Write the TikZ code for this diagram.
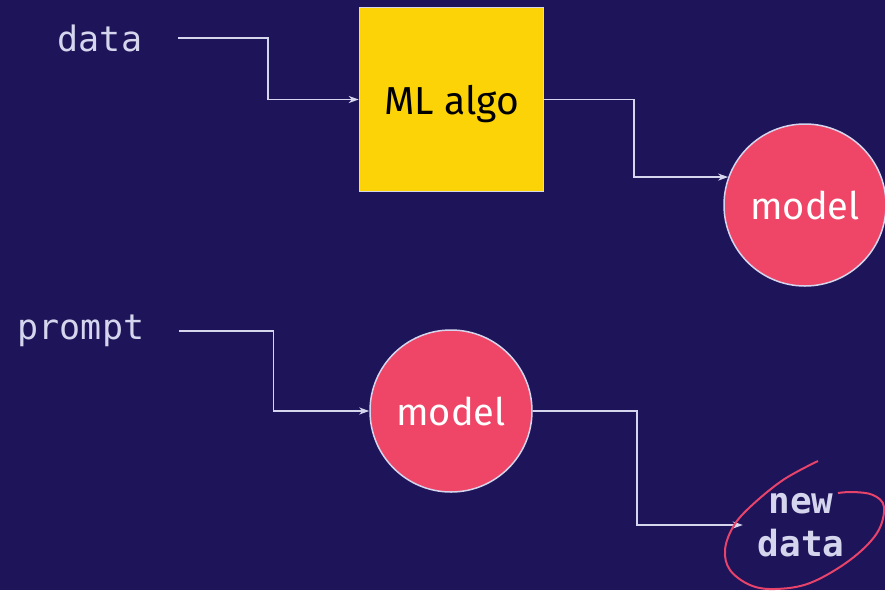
\documentclass[tikz,border=0pt]{standalone}
\usepackage{fontspec}
\setmainfont{Fira Sans}
\newfontfamily\codefont{DejaVu Sans Mono}
\usetikzlibrary{arrows.meta}

\definecolor{night}{HTML}{1D1459}
\definecolor{lilac}{HTML}{D5D5EE}
\definecolor{gold}{HTML}{FCD307}
\definecolor{rose}{HTML}{EF4566}
\definecolor{scribble}{HTML}{E8436A}

\begin{document}
\begin{tikzpicture}[x=1pt,y=-1pt,->,>={Stealth[length=10pt,width=7pt,inset=3pt]},line width=1.7pt,node distance=311.5pt,
    box node/.style={draw=lilac,fill=gold,line width=1.5pt,minimum size=184pt,text=black,text depth=0pt,font=\fontsize{39}{46}\selectfont},
    circle node/.style={circle,draw=lilac,fill=rose,line width=1.5pt,minimum size=162pt,text=white,font=\fontsize{38}{45}\selectfont},
    label node/.style={text=lilac,font=\codefont\fontsize{35}{42}\selectfont},
    flow/.style={draw=lilac}]
            \fill[night] (0,0) rectangle (885,590);
            \useasboundingbox (0,0) rectangle (885,590);

            \node[box node] (algo) at (451.5,99.5) {ML algo};
            \node[circle node] (model1) at (805,205) {model};
            \node[circle node] (model2) [below of=algo, xshift=-0.5pt] {model};

            \node[label node] (data) at (100,38) {data};
            \node[label node] (prompt) at (81,331) {prompt};
            \node[label node, font=\codefont\bfseries\fontsize{36}{43}\selectfont, align=center, inner xsep=14pt] (newdata) at (801,525) {new\\data};

            \draw[flow] ([xshift=32pt]data.east) -- ++(90,0) |- (algo);
            \draw[flow] (algo.east) -- ++(90,0) |- (model1.160);
            \draw[flow] ([xshift=31pt]prompt.east) -- ++(94,0) |- (model2);
            \draw[flow] (model2.east) -- ++(104,0) |- (newdata);

            % hand drawn ring round the output
            \draw[-,scribble,line width=2pt] plot[smooth,tension=0.6] coordinates {(818,461) (783,480) (750,507) (733,527) (725,550) (730,570) (750,585) (775,589) (810,583) (850,560) (877,533) (884,507) (873,495) (853,492) (838,493)};
        \end{tikzpicture}
\end{document}
